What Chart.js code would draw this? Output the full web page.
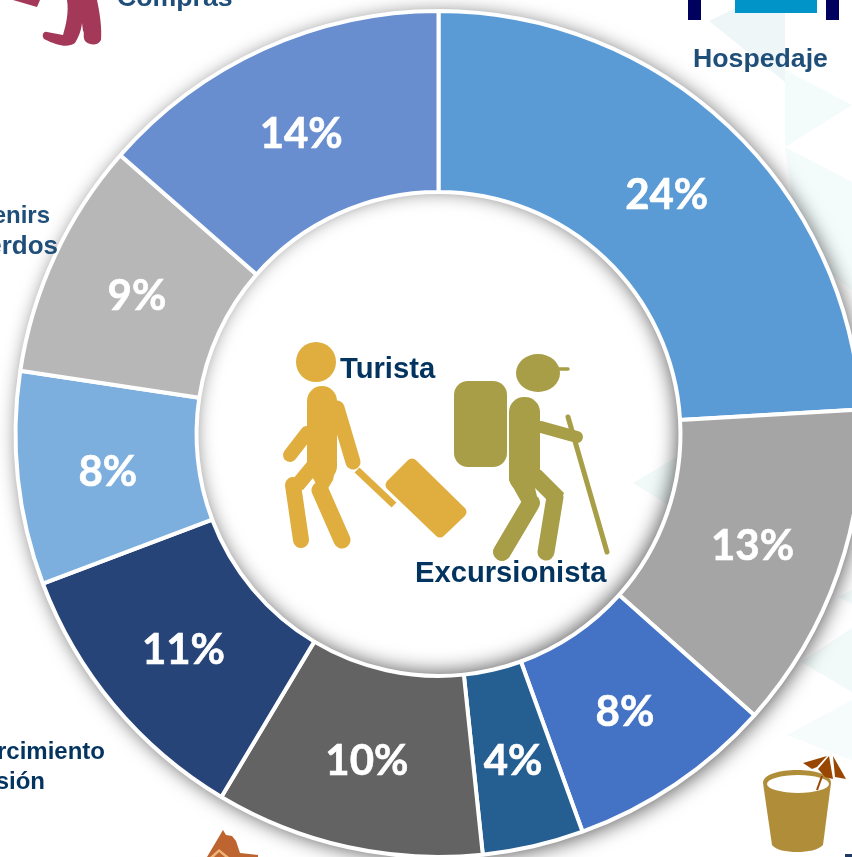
<!DOCTYPE html>
<html>
<head>
<meta charset="utf-8">
<title>Turista / Excursionista</title>
<script src="https://cdn.jsdelivr.net/npm/chart.js@4/dist/chart.umd.min.js"></script>
<style>
  html, body { margin: 0; padding: 0; width: 852px; height: 857px; overflow: hidden; background: #fff; }
  svg, canvas { position: absolute; left: 0; top: 0; }
  text { font-family: "Liberation Sans", Arial, sans-serif; font-weight: 700; }
  .dark { fill: #03345f; font-size: 29.2px; }
  .side { fill: #1f4e79; font-size: 26.7px; }
  .deep { fill: #03345f; font-size: 24px; }
</style>
</head>
<body>

<!-- pale background chevrons, behind the chart -->
<svg width="852" height="857">
  <polygon points="709,21 736,8 785,-10 785,82" fill="#eef6f8"/>
  <polygon points="785,70 852,105 785,147" fill="#f3fbfb"/>
  <polygon points="785,147 852,182 852,290 800,250" fill="#f3fbfb"/>
  <polygon points="633,483 680,455 680,512" fill="#f1f9f9"/>
  <polygon points="838,597 852,604 852,590" fill="#f1f9f9"/>
  <polygon points="801,662 852,628 852,692" fill="#f1f9f9"/>
  <polygon points="787,735 852,700 852,760" fill="#f6fbfc"/>
</svg>

<canvas id="donut" width="877" height="868"></canvas>

<!-- category icons and labels around the ring, figures in the hole -->
<svg width="852" height="857">
  <!-- Compras -->
  <polygon points="13,0 40,0 37,7" fill="#a43859"/>
  <path d="M67,0 L97,0 C100,14 102,28 101,40 C98,46 90,45 86,42 C82,38 85,32 83,31 L82,23 C81,32 78,38 75,43 C68,48 58,46 44,39 C41,35 44,31 47,32 L63,35 C66,25 69,12 67,0 Z" fill="#a43859"/>
  <text class="side" x="117" y="6">Compras</text>

  <!-- Hospedaje -->
  <rect x="688" y="0" width="13" height="20" fill="#00005f"/>
  <rect x="826" y="0" width="13" height="20" fill="#00005f"/>
  <rect x="735" y="0" width="82" height="13" fill="#0094c8"/>
  <text class="side" x="693" y="67">Hospedaje</text>

  <text class="side" x="50" y="223" text-anchor="end" style="font-size:24px">Souvenirs</text>
  <text class="side" x="58" y="254" text-anchor="end" style="font-size:26px">y recuerdos</text>

  <text class="deep" x="105" y="759" text-anchor="end">Esparcimiento</text>
  <text class="deep" x="45" y="789" text-anchor="end">y diversión</text>

  <!-- house, cut by the bottom edge -->
  <polygon points="223,830 226,835 232,836 236,841 240,853 258,855 258,857 207,857" fill="#be6430"/>
  <polygon points="219,849 210,857 214,857 219,852 225,857 229,857" fill="#efb477"/>

  <!-- drink -->
  <path d="M763,783 C763,774 780,770 797,770 C814,770 831,774 831,783 L823,845 C818,850 808,852 797,852 C786,852 776,850 772,845 Z" fill="#b08d38"/>
  <ellipse cx="798" cy="784" rx="31" ry="9" fill="#fff"/>
  <line x1="817" y1="790" x2="822" y2="776" stroke="#994700" stroke-width="2"/>
  <polygon points="803,763 827,756 817,767 812,769" fill="#994700"/>
  <polygon points="818,769 829,756 833,779 825,777" fill="#994700"/>
  <polygon points="833,756 846,779 835,777" fill="#994700"/>
  <rect x="845" y="854" width="7" height="3" fill="#1f3864"/>

  <!-- Turista -->
  <g fill="#dfae3f" stroke="#dfae3f" stroke-linecap="round" stroke-linejoin="round">
    <circle cx="316" cy="362" r="20" stroke="none"/>
    <rect x="307" y="386" width="30" height="95" rx="15" stroke="none"/>
    <polygon points="307,462 337,462 333,480 327,490 318,488 313,478 303,490 288,485" stroke="none"/>
    <path d="M307,433 L290,455" stroke-width="14" fill="none"/>
    <path d="M337,408 L353,462" stroke-width="15" fill="none"/>
    <path d="M293,485 L301,540" stroke-width="16" fill="none"/>
    <path d="M320,490 L342,540" stroke-width="17" fill="none"/>
    <path d="M357,470 L394,505" stroke-width="7" stroke-linecap="butt" fill="none"/>
    <polygon points="412,464 461,512 440,532 391,485" stroke-width="11"/>
  </g>
  <text class="dark" x="340" y="378">Turista</text>

  <!-- Excursionista -->
  <g fill="#a79e47" stroke="#a79e47" stroke-linecap="round" stroke-linejoin="round">
    <ellipse cx="538" cy="373" rx="22" ry="19" stroke="none"/>
    <path d="M557,369 L568,369" stroke-width="3.5" fill="none"/>
    <rect x="454" y="381" width="53" height="86" rx="14" stroke="none"/>
    <rect x="509" y="397" width="31" height="95" rx="15" stroke="none"/>
    <polygon points="509,470 541,470 564,493 557,510 535,488 539,505 523,505 509,480" stroke="none"/>
    <path d="M531,503 L502,552" stroke-width="18" fill="none"/>
    <path d="M555,497 L546,552" stroke-width="17" fill="none"/>
    <path d="M541,427 L577,437" stroke-width="12" fill="none"/>
    <path d="M568,417 L607,552" stroke-width="5" fill="none"/>
  </g>
  <text class="dark" x="415" y="582">Excursionista</text>
</svg>

<script>
// clockwise from 12 o'clock; the printed labels are these rounded
const sliceValues = [24.08, 12.5, 7.89, 3.86, 10.25, 10.67, 8.14, 9.06, 13.55];
const sliceLabels = ['24%', '13%', '8%', '4%', '10%', '11%', '8%', '9%', '14%'];
const sliceColors = ['#5b9bd5', '#a5a5a5', '#4472c4', '#255e91', '#636363', '#264478', '#7cafdd', '#b7b7b7', '#698ed0'];

// soft shadow falling outside the ring and into the hole
const ringShadow = {
  id: 'ringShadow',
  beforeDatasetsDraw(chart) {
    const arc = chart.getDatasetMeta(0).data[0];
    const ctx = chart.ctx;
    const full = Math.PI * 2;
    const ring = () => {
      ctx.beginPath();
      ctx.arc(arc.x, arc.y, arc.outerRadius, 0, full);
      ctx.arc(arc.x, arc.y, arc.innerRadius, 0, full, true);
    };

    ctx.save();
    ctx.fillStyle = '#fff';
    ctx.shadowColor = 'rgba(0, 0, 0, 0.65)';
    ctx.shadowBlur = 20;

    ctx.save();
    ctx.beginPath();
    ctx.rect(0, 0, chart.width, chart.height);
    ctx.arc(arc.x, arc.y, arc.innerRadius, 0, full, true);
    ctx.clip();
    ctx.shadowOffsetX = 3;
    ctx.shadowOffsetY = 3;
    ring();
    ctx.fill();
    ctx.restore();

    ctx.beginPath();
    ctx.arc(arc.x, arc.y, arc.innerRadius, 0, full);
    ctx.clip();
    ctx.shadowOffsetX = -3;
    ctx.shadowOffsetY = -3;
    ring();
    ctx.fill();
    ctx.restore();
  },
};

// percent text in the middle of each slice
const sliceText = {
  id: 'sliceText',
  afterDatasetsDraw(chart) {
    const ctx = chart.ctx;
    ctx.save();
    ctx.fillStyle = '#fff';
    ctx.strokeStyle = '#fff';
    ctx.lineWidth = 0.6;
    ctx.font = '700 42px Lato, sans-serif';
    ctx.textAlign = 'center';
    ctx.textBaseline = 'middle';
    chart.getDatasetMeta(0).data.forEach((arc, i) => {
      const p = arc.getCenterPoint();
      ctx.fillText(sliceLabels[i], p.x, p.y + 3);
      ctx.strokeText(sliceLabels[i], p.x, p.y + 3);
    });
    ctx.restore();
  },
};

new Chart(document.getElementById('donut'), {
  type: 'doughnut',
  data: {
    labels: sliceLabels,
    datasets: [{
      data: sliceValues,
      backgroundColor: sliceColors,
      borderColor: '#fff',
      borderWidth: 4,
    }],
  },
  options: {
    responsive: false,
    animation: false,
    radius: 423,
    cutout: '57.2%',
    plugins: { legend: { display: false }, tooltip: { enabled: false } },
  },
  plugins: [ringShadow, sliceText],
});
</script>
</body>
</html>
